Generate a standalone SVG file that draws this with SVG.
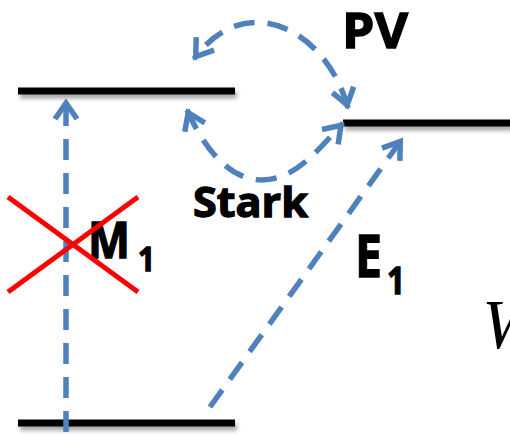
<svg xmlns="http://www.w3.org/2000/svg" width="510" height="434" viewBox="0 0 510 434">
<style>
.lvl{stroke:#000;stroke-width:7;fill:none}
.tr{stroke:#4F81BD;stroke-width:5.5;fill:none;stroke-dasharray:21 13}
.lbl{font-family:"Open Sans","Liberation Sans",sans-serif;font-weight:bold;fill:#000;stroke:#000;stroke-width:1.3}
.x{stroke:#FF0000;stroke-width:5;fill:none}
</style>
<defs>
<filter id="sh" x="-10%" y="-50%" width="120%" height="250%">
<feDropShadow dx="2" dy="4" stdDeviation="2" flood-color="#000" flood-opacity="0.35"/>
</filter>
<marker id="ah" viewBox="-25 -15 30 30" refX="3" refY="0" markerWidth="30" markerHeight="30" markerUnits="userSpaceOnUse" orient="auto-start-reverse">
<path d="M-16,-11 L0,0 L-16,11" fill="none" stroke="#4F81BD" stroke-width="5.5"/>
</marker>
</defs>
<g id="levels" filter="url(#sh)">
<g id="upper-left"><line class="lvl" x1="18" y1="91" x2="235" y2="91"/></g>
<g id="upper-right"><line class="lvl" x1="343" y1="123" x2="512" y2="123"/></g>
<g id="ground"><line class="lvl" x1="18" y1="423" x2="235" y2="423"/></g>
</g>
<g id="connectors">
<path class="tr" d="M66,432 L66,100" marker-end="url(#ah)"/>
<path class="tr" d="M210,407 L402,139" marker-end="url(#ah)"/>
<path class="tr" d="M348,108 C335,60 300,27 265,23 C240,20 215,30 194,59" marker-start="url(#ah)" marker-end="url(#ah)"/>
<path class="tr" d="M187,110 C205,150 230,180 262,180 C295,180 318,150 343,123" marker-start="url(#ah)" marker-end="url(#ah)"/>
</g>
<g id="labels">
<text class="lbl" x="342" y="48" font-size="49" textLength="66" lengthAdjust="spacingAndGlyphs">PV</text>
<text class="lbl" x="193" y="217" font-size="41" textLength="115" lengthAdjust="spacingAndGlyphs">Stark</text>
<text class="lbl" x="88" y="258" font-size="50" textLength="42" lengthAdjust="spacingAndGlyphs">M</text>
<text class="lbl" x="138" y="271" font-size="34" textLength="17" lengthAdjust="spacingAndGlyphs">1</text>
<text class="lbl" x="355" y="277" font-size="59" textLength="27" lengthAdjust="spacingAndGlyphs">E</text>
<text class="lbl" x="387" y="294" font-size="38" textLength="18" lengthAdjust="spacingAndGlyphs">1</text>
<text x="482" y="348" font-family="'Liberation Serif',serif" font-style="italic" font-size="70" fill="#000">W</text>
</g>
<g id="cross">
<line class="x" x1="8" y1="197" x2="138" y2="292"/>
<line class="x" x1="8" y1="292" x2="138" y2="197"/>
</g>
</svg>
